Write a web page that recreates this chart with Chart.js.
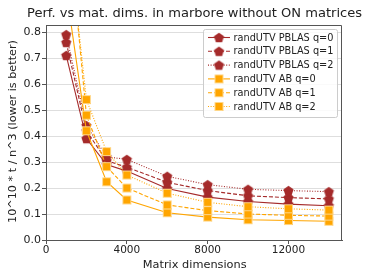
<!DOCTYPE html>
<html>
<head>
<meta charset="utf-8">
<script src="https://cdn.jsdelivr.net/npm/chart.js@4/dist/chart.umd.min.js"></script>
<style>
  html, body { margin: 0; padding: 0; background: #fff; }
  #wrap { width: 374px; height: 280px; }
</style>
</head>
<body>
<div id="wrap"><canvas id="chart" width="374" height="280"></canvas></div>
<script>
// matrix sizes (x axis)
const dims = [1000, 2000, 3000, 4000, 6000, 8000, 10000, 12000, 14000];

// 10^10 * t / n^3
const pblasQ0 = [0.71, 0.39, 0.29, 0.265, 0.198, 0.165, 0.148, 0.138, 0.132];
const pblasQ1 = [0.76, 0.42, 0.305, 0.28, 0.222, 0.19, 0.17, 0.163, 0.158];
const pblasQ2 = [0.79, 0.44, 0.32, 0.31, 0.245, 0.213, 0.195, 0.19, 0.186];
const abQ0 = [0.96, 0.42, 0.224, 0.154, 0.105, 0.088, 0.078, 0.075, 0.072];
const abQ1 = [1.30, 0.48, 0.282, 0.20, 0.135, 0.113, 0.10, 0.095, 0.092];
const abQ2 = [1.25, 0.54, 0.34, 0.25, 0.18, 0.145, 0.128, 0.12, 0.115];

const xTicks = [0, 4000, 8000, 12000];
const yTicks = [0.0, 0.1, 0.2, 0.3, 0.4, 0.5, 0.6, 0.7, 0.8];

const BROWN = '#a52a2a';
const ORANGE = '#ffa500';
const FONT = '"DejaVu Sans", sans-serif';

// little marker images
function pentagon(color, r) {
    const c = document.createElement('canvas');
    c.width = c.height = Math.ceil(r * 2 + 2);
    const g = c.getContext('2d');
    const cx = c.width / 2, cy = c.height / 2 + 0.5;
    g.beginPath();
    for (let i = 0; i < 5; i++) {
        const a = -Math.PI / 2 + i * 2 * Math.PI / 5;
        const px = cx + r * Math.cos(a), py = cy + r * Math.sin(a);
        if (i === 0) g.moveTo(px, py); else g.lineTo(px, py);
    }
    g.closePath();
    g.fillStyle = color;
    g.fill();
    return c;
}
function square(color, s) {
    const c = document.createElement('canvas');
    c.width = c.height = s + 2;
    const g = c.getContext('2d');
    g.fillStyle = color;
    g.fillRect(1, 1, s, s);
    g.strokeStyle = 'rgba(255,235,190,0.9)';
    g.lineWidth = 0.8;
    g.strokeRect(1.4, 1.4, s - 0.8, s - 0.8);
    return c;
}
const pentMark = pentagon(BROWN, 5.3);
const sqMark = square(ORANGE, 9);

const series = [
    { label: 'randUTV PBLAS q=0', data: pblasQ0, color: BROWN, dash: [], mark: pentMark },
    { label: 'randUTV PBLAS q=1', data: pblasQ1, color: BROWN, dash: [4, 2], mark: pentMark },
    { label: 'randUTV PBLAS q=2', data: pblasQ2, color: BROWN, dash: [1, 1.6], mark: pentMark },
    { label: 'randUTV AB q=0', data: abQ0, color: ORANGE, dash: [], mark: sqMark },
    { label: 'randUTV AB q=1', data: abQ1, color: ORANGE, dash: [4, 2], mark: sqMark },
    { label: 'randUTV AB q=2', data: abQ2, color: ORANGE, dash: [1, 1.6], mark: sqMark }
];

const datasets = series.map((s, i) => ({
    label: s.label,
    data: s.data.map((v, j) => ({ x: dims[j], y: v })),
    borderColor: s.color,
    borderWidth: 1.1,
    borderDash: s.dash,
    pointStyle: s.mark,
    pointRadius: 5,
    backgroundColor: s.color,
    order: series.length - i,
    clip: 0
}));

// draw text scaled so that it spans the given width
function fitText(ctx, text, x, y, width, size) {
    ctx.font = size + 'px ' + FONT;
    const w = ctx.measureText(text).width;
    const s = width / w;
    ctx.font = (size * s).toFixed(2) + 'px ' + FONT;
    ctx.fillText(text, x, y);
}

// title, axis labels, frame and inside legend
const decorations = {
    id: 'decorations',
    afterDraw(chart) {
        const ctx = chart.ctx;
        const a = chart.chartArea;
        ctx.save();
        // frame top/right
        ctx.strokeStyle = '#555';
        ctx.lineWidth = 1;
        ctx.beginPath();
        ctx.moveTo(a.left, a.top + 0.5);
        ctx.lineTo(a.right - 0.5, a.top + 0.5);
        ctx.lineTo(a.right - 0.5, a.bottom);
        ctx.stroke();

        ctx.fillStyle = '#222';
        ctx.textAlign = 'center';
        ctx.textBaseline = 'middle';
        fitText(ctx, 'Perf. vs mat. dims. in marbore without ON matrices', 194.5, 14, 335, 12);
        fitText(ctx, 'Matrix dimensions', 194.7, 265, 104, 10);
        ctx.translate(13, 131.5);
        ctx.rotate(-Math.PI / 2);
        fitText(ctx, '10^10 * t / n^3 (lower is better)', 0, 0, 183, 10);
        ctx.restore();

        // legend box
        ctx.save();
        const lx = 203, ly = 29, lw = 134, lh = 88;
        ctx.fillStyle = 'rgba(255,255,255,0.85)';
        ctx.strokeStyle = '#ccc';
        ctx.lineWidth = 1;
        ctx.beginPath();
        ctx.roundRect(lx + 0.5, ly + 0.5, lw, lh, 2);
        ctx.fill();
        ctx.stroke();
        ctx.textAlign = 'left';
        ctx.textBaseline = 'middle';
        ctx.font = '10px ' + FONT;
        const refW = ctx.measureText(series[0].label).width;
        const legSize = 10 * 100 / refW;
        series.forEach((s, i) => {
            const y = ly + 8.5 + i * 13.8;
            ctx.strokeStyle = s.color;
            ctx.lineWidth = 1.1;
            ctx.setLineDash(s.dash);
            ctx.beginPath();
            ctx.moveTo(lx + 5, y);
            ctx.lineTo(lx + 27, y);
            ctx.stroke();
            ctx.setLineDash([]);
            ctx.drawImage(s.mark, lx + 16 - s.mark.width / 2, y - s.mark.height / 2);
            ctx.fillStyle = '#222';
            ctx.font = legSize.toFixed(2) + 'px ' + FONT;
            ctx.fillText(s.label, lx + 30.5, y + 0.5);
        });
        ctx.restore();
    }
};

const ctx = document.getElementById('chart').getContext('2d');
const perfChart = new Chart(ctx, {
    type: 'line',
    data: { datasets: datasets },
    options: {
        responsive: false,
        animation: false,
        events: [],
        layout: { padding: { top: 25, right: 32, left: 0, bottom: 0 } },
        plugins: {
            legend: { display: false },
            title: { display: false },
            tooltip: { enabled: false }
        },
        scales: {
            x: {
                type: 'linear',
                min: 0,
                max: 14650,
                afterBuildTicks: (scale) => { scale.ticks = xTicks.map(v => ({ value: v })); },
                afterFit: (scale) => { scale.height = 40; },
                ticks: {
                    color: '#222',
                    font: { family: FONT, size: 10.5 },
                    padding: 0,
                    maxRotation: 0,
                    callback: (v) => String(v)
                },
                grid: { drawOnChartArea: false, tickLength: 4, tickColor: '#555' },
                border: { color: '#555', width: 1 }
            },
            y: {
                min: 0,
                max: 0.827,
                afterBuildTicks: (scale) => { scale.ticks = yTicks.map(v => ({ value: v })); },
                afterFit: (scale) => { scale.width = 46; },
                ticks: {
                    color: '#222',
                    font: { family: FONT, size: 11 },
                    padding: 1,
                    callback: (v) => v.toFixed(1)
                },
                grid: { color: '#dedede', tickLength: 4, tickColor: '#555', lineWidth: 1 },
                border: { color: '#555', width: 1 }
            }
        }
    },
    plugins: [decorations]
});
</script>
</body>
</html>
